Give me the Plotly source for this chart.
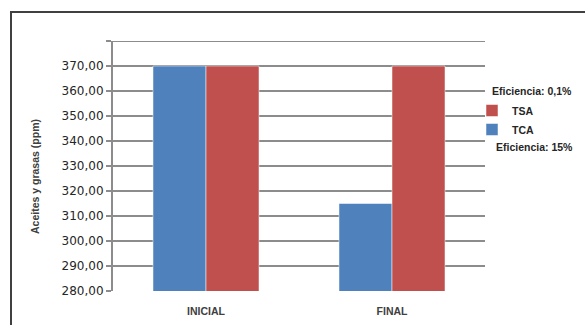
import plotly.graph_objects as go

categories = ["INICIAL", "FINAL"]
tca_values = [370.0, 315.0]
tsa_values = [370.0, 370.0]
tick_vals = [280, 290, 300, 310, 320, 330, 340, 350, 360, 370, 380]
tick_text = ["280,00", "290,00", "300,00", "310,00", "320,00", "330,00",
             "340,00", "350,00", "360,00", "370,00", ""]

W, H = 585, 325
L, R, T, B = 113, 100, 41, 34
pw, ph = W - L - R, H - T - B

def px(x):
    return (x - L) / pw

def py(y):
    return 1 - (y - T) / ph

bold = dict(family="Liberation Sans, Arial", color="#262626", weight="bold")

fig = go.Figure()
fig.add_trace(go.Bar(name="TCA", x=categories, y=tca_values,
                     marker=dict(color="#4F81BD", line=dict(color="#ffffff", width=0.5))))
fig.add_trace(go.Bar(name="TSA", x=categories, y=tsa_values,
                     marker=dict(color="#C0504D", line=dict(color="#ffffff", width=0.5))))

fig.update_layout(
    width=W, height=H,
    margin=dict(l=L, r=R, t=T, b=B, autoexpand=False),
    paper_bgcolor="white", plot_bgcolor="white",
    barmode="group", bargap=0.43, bargroupgap=0,
    showlegend=True,
    legend=dict(x=px(472), y=py(96), xanchor="left", yanchor="top",
                traceorder="reversed",
                font=dict(size=10.5, **bold),
                itemwidth=30, tracegroupgap=0, bgcolor="rgba(0,0,0,0)"),
    xaxis=dict(showgrid=False, showline=False, ticks="", automargin=False,
               tickfont=dict(family="Liberation Sans, Arial", size=10.5, color="#404040",
                             weight="bold"),
               ticklabelstandoff=12),
    yaxis=dict(range=[280, 380], tickvals=tick_vals, ticktext=tick_text,
               automargin=False,
               showgrid=True, gridcolor="#8c8c8c", gridwidth=2,
               showline=True, linecolor="#8c8c8c", linewidth=2,
               ticks="outside", ticklen=5, tickwidth=2, tickcolor="#8c8c8c",
               tickfont=dict(family="DejaVu Sans", size=12, color="#262626"),
               zeroline=False),
    shapes=[dict(type="rect", xref="paper", yref="paper",
                 x0=px(11), x1=px(620), y0=py(340), y1=py(12),
                 line=dict(color="#404040", width=2), fillcolor="rgba(0,0,0,0)",
                 layer="below"),
            dict(type="line", xref="paper", yref="y", x0=px(108), x1=1,
                 y0=380, y1=380, line=dict(color="#8c8c8c", width=2),
                 layer="below")],
    annotations=[
        dict(text="Aceites y grasas (ppm)", xref="paper", yref="paper",
             x=px(35), y=py(177), xanchor="center", yanchor="middle",
             textangle=-90, showarrow=False,
             font=dict(family="Liberation Sans, Arial", size=10.5, color="#404040",
                       weight="bold")),
        dict(text="Eficiencia: 0,1%", xref="paper", yref="paper",
             x=px(490), y=py(91), xanchor="left", yanchor="middle", showarrow=False,
             font=dict(size=10.5, **bold)),
        dict(text="Eficiencia: 15%", xref="paper", yref="paper",
             x=px(494), y=py(147), xanchor="left", yanchor="middle", showarrow=False,
             font=dict(size=10.5, **bold)),
    ],
)

fig.write_html("out.html")
